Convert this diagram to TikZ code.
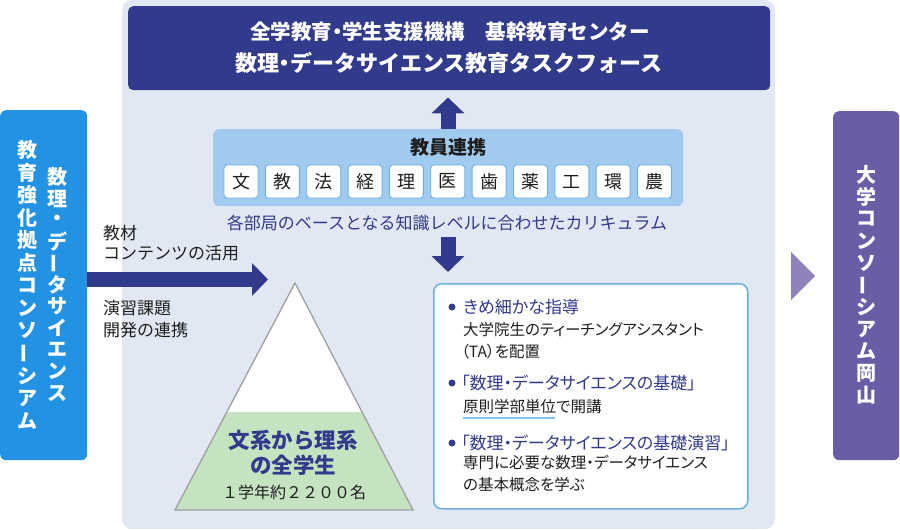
\documentclass[tikz,border=0pt]{standalone}
\usepackage{fontspec}
\setmainfont{Noto Sans CJK JP}
\newfontfamily\pfont{Noto Sans CJK JP}[RawFeature=+palt]
\usetikzlibrary{arrows.meta}
\definecolor{navy}{HTML}{323A8C}
\definecolor{lbluebox}{HTML}{A0CBEE}
\definecolor{panel}{HTML}{E1E8F3}
\definecolor{leftblue}{HTML}{2492E2}
\definecolor{purplebox}{HTML}{6A5CA5}
\definecolor{purpletri}{HTML}{9181B9}
\definecolor{greenfill}{HTML}{C6E3C1}
\definecolor{boxborder}{HTML}{6DB0E0}
\definecolor{uline}{HTML}{7CC4EC}
\definecolor{txt}{HTML}{1E1E1E}
\newcommand{\vbar}{\rotatebox[origin=c]{90}{ー}}
\newcommand{\dt}{{\pfont ・}}
\begin{document}
\begin{tikzpicture}[x=1pt,y=-1pt,
  every node/.style={inner sep=0pt, text=txt},
  fs/.style={font=\fontsize{#1}{#1}\selectfont},
  fsb/.style={font=\fontsize{#1}{#1}\selectfont\bfseries},
  pfs/.style={font=\pfont\fontsize{#1}{#1}\selectfont},
  dbox/.style={draw=boxborder, line width=0.9pt, fill=white, rounded corners=3pt,
    minimum width=34pt, minimum height=33pt, fs=18},
  bigarrow/.style={draw=navy, line width=15pt, -{Triangle[length=16pt,width=32pt]}},
  bullet/.style={circle, fill=navy, minimum size=7pt},
  head/.style={pfs=17, text=navy, anchor=west},
  body/.style={pfs=15.5, anchor=west}
]
\useasboundingbox (0,0) rectangle (900,530);
% background panel
\fill[panel, rounded corners=10pt] (122,0) rectangle (775,529);

% top box
\node[fill=navy, rounded corners=5pt, minimum width=642pt, minimum height=84pt, anchor=north west] (tf) at (128,6) {};
\node[fsb=20.5, text=white] (tf1) at (450,32) {全学教育\dt 学生支援機構　基幹教育センター};
\node[fsb=22, text=white] (tf2) at (449,63) {数理\dt データサイエンス教育タスクフォース};

% faculty box
\node[fill=lbluebox, rounded corners=6pt, minimum width=470pt, minimum height=77pt, anchor=north west] (kyoin) at (213,129) {};
\node[fsb=19] (kyointitle) at (448,147) {教員連携};
\foreach \c [count=\i from 0] in {文,教,法,経,理,医,歯,薬,工,環,農}
  \node[dbox] (d\i) at (241+\i*41.35,181.5) {\c};
\node[fs=17, text=navy] (curr) at (447,223) {各部局のベースとなる知識レベルに合わせたカリキュラム};

% up arrow
\draw[bigarrow] (kyoin.north -| 448,0) -- (tf.south -| 448,0) [shorten >=7pt];
\coordinate (dstart) at (448,237);

% info box
\node[draw=boxborder, line width=1.5pt, fill=white, rounded corners=8pt, minimum width=314pt, minimum height=225pt, anchor=north west] (info) at (433,283) {};
\draw[bigarrow, shorten >=11pt] (dstart) -- (dstart |- info.north);

\node[bullet] (b1) at (452,307) {};
\node[head] (h1) at (463,307) {きめ細かな指導};
\node[body] (t1a) at (463,330) {大学院生のティーチングアシスタント};
\node[body] (t1b) at (461,352) {（TA）を配置};
\node[bullet] (b2) at (452,383) {};
\node[head] (h2) at (461,383) {「数理・データサイエンスの基礎」};
\node[body] (t2a) at (463,407) {原則学部単位で開講};
\draw[uline, line width=2.5pt] (463,418) -- (555,418);
\node[bullet] (b3) at (452,443) {};
\node[head] (h3) at (461,443) {「数理・データサイエンスの基礎演習」};
\node[body] (t3a) at (463,463) {専門に必要な数理・データサイエンス};
\node[body] (t3b) at (463,485) {の基本概念を学ぶ};

% pyramid
\coordinate (apex) at (295,283);
\coordinate (bl) at (175,510);
\coordinate (br) at (413,510);
\fill[white] (apex) -- (bl) -- (br) -- cycle;
\begin{scope}
  \clip (apex) -- (bl) -- (br) -- cycle;
  \fill[greenfill] (150,412) rectangle (440,515);
\end{scope}
\draw[gray!75, line width=1.3pt, line join=miter] (apex) -- (bl) -- (br) -- cycle;
\node[fsb=21.5, text=navy] (p1) at (293,440) {文系から理系};
\node[fsb=21.5, text=navy] (p2) at (293,465) {の全学生};
\node[fs=16] (p3) at (294,492) {１学年約２２００名};

% left box
\node[fill=leftblue, rounded corners=6pt, minimum width=87pt, minimum height=350pt, anchor=north west] (lbox) at (0,110) {};
\foreach \c [count=\i from 0] in {教,育,強,化,拠,点,コ,ン,ソ,\vbar,シ,ア,ム}
  \node[fsb=20, text=white] (la\i) at (27,150+\i*22.6) {\c};
\foreach \c [count=\i from 0] in {数,理,・,デ,\vbar,タ,サ,イ,エ,ン,ス}
  \node[fsb=20, text=white] (lb\i) at (57,177+\i*21.6) {\c};

% left arrow
\coordinate (lastart) at (87,279.5);
\coordinate (laend) at (268,279.5);
\draw[bigarrow] (lastart) -- (laend);
\node[fs=17, anchor=west] (m1) at (103,233) {教材};
\node[fs=17, anchor=west] (m2) at (103,253) {コンテンツの活用};
\node[fs=17, anchor=west] (m3) at (103,308) {演習課題};
\node[fs=17, anchor=west] (m4) at (103,330) {開発の連携};

% right side
\fill[purpletri] (791,252) -- (815,276) -- (791,300) -- cycle;
\node[fill=purplebox, rounded corners=6pt, minimum width=66pt, minimum height=349pt, anchor=north west] (rbox) at (833,111) {};
\foreach \c [count=\i from 0] in {大,学,コ,ン,ソ,\vbar,シ,ア,ム,岡,山}
  \node[fsb=20, text=white] (r\i) at (866,175+\i*22) {\c};
\end{tikzpicture}
\end{document}
